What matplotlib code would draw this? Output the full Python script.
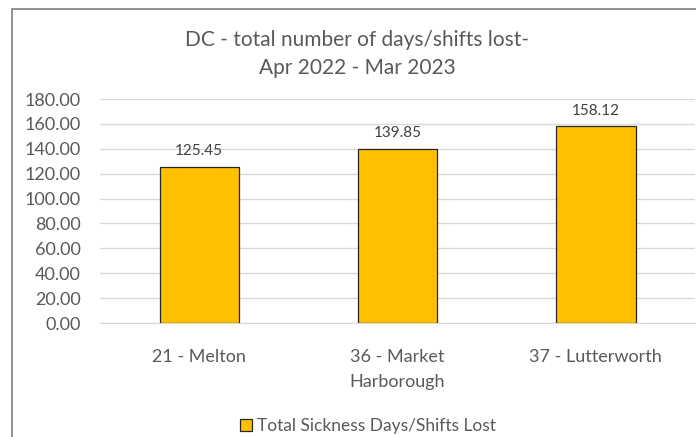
import matplotlib.pyplot as plt
from matplotlib.patches import Rectangle

categories = ["21 - Melton", "36 - Market\nHarborough", "37 - Lutterworth"]
values = [125.45, 139.85, 158.12]
series_name = "Total Sickness Days/Shifts Lost"
title = "DC - total number of days/shifts lost-\nApr 2022 - Mar 2023"

plt.rcParams['font.family'] = ['Lato', 'DejaVu Sans']
grey = "#595959"

fig = plt.figure(figsize=(6.96, 4.37), dpi=100)
fig.patch.set_facecolor("white")

# outer chart border (only left/top visible in reference)
fig.patches.append(Rectangle((12 / 696, -0.05), 1.2, 1 - 9 / 437 + 0.05,
                             transform=fig.transFigure, fill=False,
                             ec="#7f7f7f", lw=1.2))

ax = fig.add_axes([100 / 696, 1 - 323 / 437, 595 / 696, 224 / 437])
x = list(range(len(categories)))
bars = ax.bar(x, values, width=0.40, color="#FFC000", edgecolor="#262626",
              linewidth=0.9, label=series_name, zorder=3)

for xi, v in zip(x, values):
    ax.text(xi, v + 7, f"{v:.2f}", ha="center", va="bottom",
            fontsize=11, color="#404040")

ax.set_xlim(-0.5, len(categories) - 0.5)
ax.set_ylim(0, 180)
ax.set_yticks(range(0, 181, 20))
ax.set_yticklabels([f"{t:.2f}" for t in range(0, 181, 20)])
ax.set_xticks(x)
ax.set_xticklabels(categories, linespacing=1.7)
ax.grid(axis="y", color="#d9d9d9", lw=1, zorder=0)
for s in ["top", "right", "left"]:
    ax.spines[s].set_visible(False)
ax.spines["bottom"].set_color("#d9d9d9")
ax.tick_params(axis="both", length=0, labelsize=13, colors=grey)
ax.tick_params(axis="x", pad=19)
ax.tick_params(axis="y", pad=14)

fig.text(357 / 696, 1 - 54 / 437, title, ha="center", va="center",
         fontsize=15, color=grey, linespacing=1.55)

fig.legend(handles=[bars], labels=[series_name], loc="center",
           bbox_to_anchor=(368 / 696, 1 - 426 / 437), frameon=False,
           fontsize=12.5, labelcolor=grey, handlelength=0.7,
           handleheight=0.7, handletextpad=0.3, borderpad=0.2)

fig.savefig("out.png", dpi=100, facecolor="white")
